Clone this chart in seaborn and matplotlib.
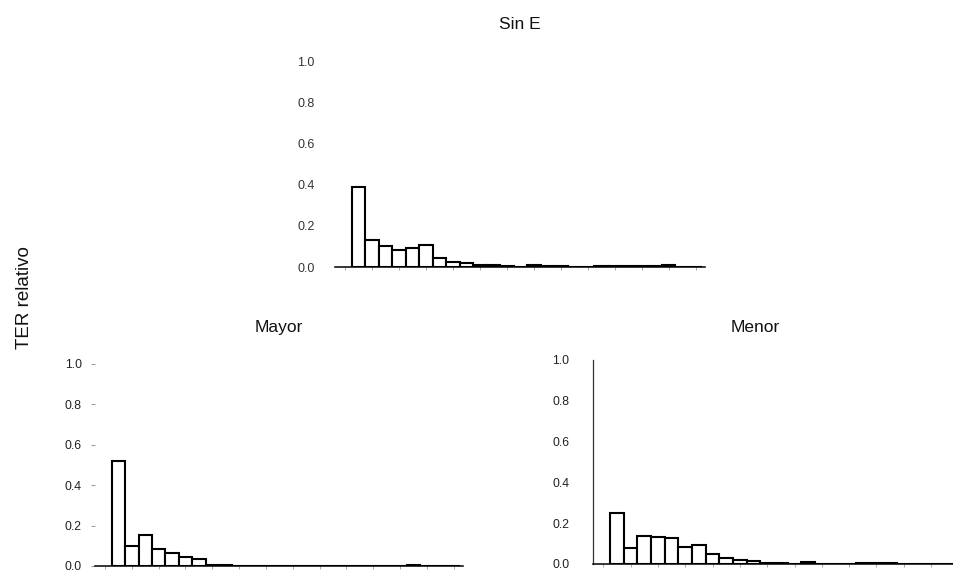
import matplotlib
matplotlib.use("Agg")
import matplotlib.pyplot as plt
import numpy as np
import pandas as pd
import seaborn as sns

# Relative TER per class (26 classes) for each condition
clases = list(range(1, 27))

sin_e = [0.387, 0.130, 0.104, 0.081, 0.094, 0.105, 0.045, 0.024, 0.018, 0.008,
         0.008, 0.005, 0.002, 0.008, 0.006, 0.003, 0.000, 0.000, 0.004, 0.004,
         0.004, 0.004, 0.004, 0.010, 0.002, 0.000]

mayor = [0.520, 0.098, 0.151, 0.085, 0.062, 0.047, 0.033, 0.007, 0.003, 0.002,
         0.001, 0.001, 0.001, 0.001, 0.001, 0.001, 0.001, 0.001, 0.001, 0.001,
         0.001, 0.001, 0.006, 0.001, 0.001, 0.001]

menor = [0.252, 0.078, 0.137, 0.130, 0.128, 0.083, 0.095, 0.050, 0.028, 0.022,
         0.017, 0.003, 0.003, 0.000, 0.012, 0.000, 0.000, 0.000, 0.003, 0.003,
         0.003, 0.002, 0.001, 0.000, 0.000, 0.000]

titulos = ["Sin E", "Mayor", "Menor"]
yticks = [0.0, 0.2, 0.4, 0.6, 0.8, 1.0]
ylabel = "TER relativo"

sns.set_theme(style="white")
plt.rcParams["font.family"] = ["Liberation Sans", "DejaVu Sans"]

W, H = 954, 573
fig = plt.figure(figsize=(W / 100, H / 100), dpi=100)


def axes_px(left, bottom_y, width, height):
    """Axes rectangle given in pixels (bottom_y measured from the top)."""
    return fig.add_axes([left / W, (H - bottom_y) / H, width / W, height / H])


ax_top = axes_px(335, 267, 370, 206)
ax_may = axes_px(95, 566, 368, 202)
ax_men = axes_px(593, 564, 375, 204)

paneles = [
    (ax_top, sin_e, titulos[0], 23),
    (ax_may, mayor, titulos[1], 23),
    (ax_men, menor, titulos[2], 20),
]

for ax, valores, titulo, pad in paneles:
    df = pd.DataFrame({"clase": clases, "ter": valores})
    sns.barplot(data=df, x="clase", y="ter", ax=ax, color="white",
                saturation=1, edgecolor="black", linewidth=1.5, width=1.0)
    ax.set_xlim(-1.75, 25.7)
    ax.set_ylim(0, 1.0)
    ax.set_xlabel("")
    ax.set_ylabel("")
    ax.set_yticks(yticks)
    ax.set_yticklabels([f"{v:.1f}" for v in yticks])
    ax.set_xticks(np.arange(-1, 26, 2))
    ax.set_xticklabels([])
    ax.tick_params(axis="x", bottom=True, length=2, width=0.6,
                   color="#999999")
    for s in ["top", "right", "left"]:
        ax.spines[s].set_visible(False)
    ax.spines["bottom"].set_color("black")
    ax.spines["bottom"].set_linewidth(1.1)
    ax.set_title(titulo, fontsize=12.5, pad=pad, color="#111111",
                 x=0.432 if ax is ax_men else 0.5)
    ax.set_facecolor("none")

# Per-panel y-axis styling
ax_top.tick_params(axis="y", left=False, pad=8.5, labelsize=9,
                   labelcolor="#333333")
ax_may.tick_params(axis="y", left=True, length=3, width=0.6,
                   color="#888888", pad=6.5, labelsize=8.8, labelcolor="#222222")
ax_men.tick_params(axis="y", left=False, pad=11, labelsize=8.8,
                   labelcolor="#222222")
ax_men.spines["left"].set_visible(True)
ax_men.spines["left"].set_color("#333333")
ax_men.spines["left"].set_linewidth(0.9)

fig.text(25 / W, 1 - 298 / H, ylabel, rotation=90, ha="center", va="center",
         fontsize=13.5, color="#111111")

fig.savefig("out.png", dpi=100, facecolor="white")
